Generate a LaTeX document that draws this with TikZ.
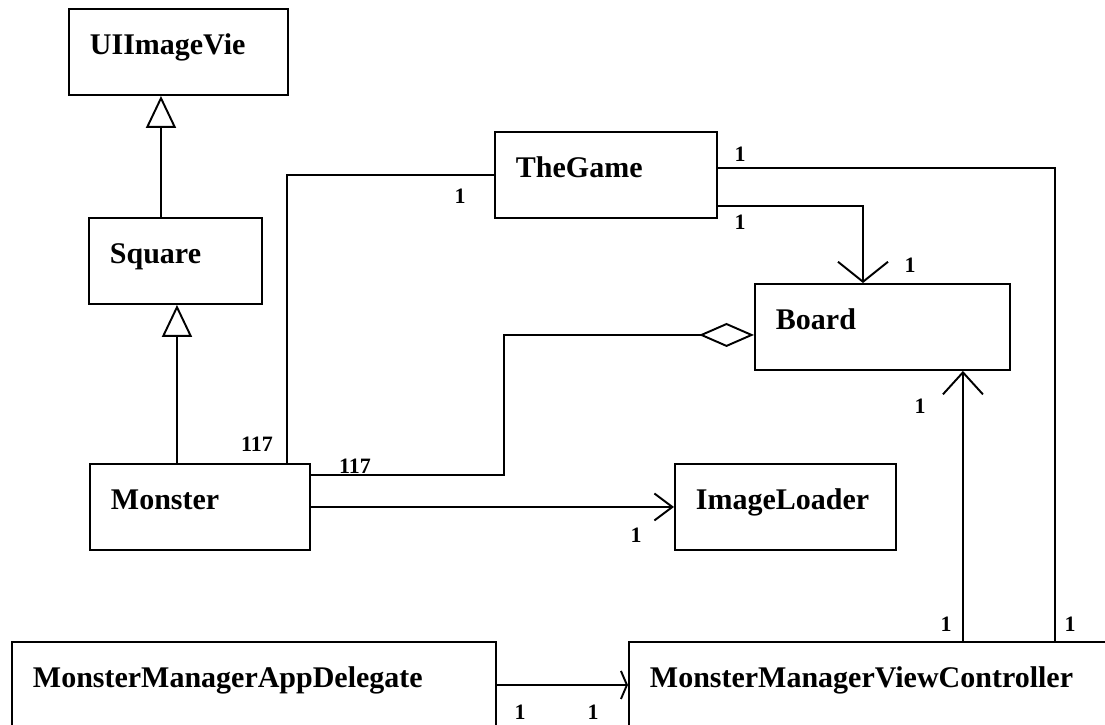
\documentclass[tikz,border=0pt]{standalone}
\usepackage{fontspec}
\setmainfont{Liberation Serif}
\usetikzlibrary{arrows.meta}
\tikzset{
    cls/.style = {draw, line width=1.1pt, anchor=north west, align=left, inner xsep=0.42cm,
        minimum height=1.72cm, text height=0.44cm, text depth=0.32cm,
        font=\fontsize{17.07pt}{20pt}\selectfont\bfseries},
    mult/.style = {inner sep=0pt, font=\fontsize{12.5pt}{14pt}\selectfont\bfseries},
    conn/.style = {line width=1.1pt},
    inherit/.style = {conn, -{Triangle[open,length=0.64cm,width=0.6cm]}},
}

\begin{document}
\begin{tikzpicture}[x=0.02cm, y=-0.02cm]
    \useasboundingbox (0,0) rectangle (1105,724);
    \clip (0,0) rectangle (1105,724);
    % classes
    \node[cls, text width=3.54cm] (uiimageview) at (68,8) {UIImageVie};
    \node[cls, text width=2.62cm] (square) at (88,217) {Square};
    \node[cls, text width=3.56cm] (monster) at (89,463) {Monster};
    \node[cls, text width=3.60cm] (thegame) at (494,131) {TheGame};
    \node[cls, text width=4.26cm] (board) at (754,283) {Board};
    \node[cls, text width=3.58cm] (imageloader) at (674,463) {ImageLoader};
    \node[cls, text width=8.84cm] (appdelegate) at (11,641) {MonsterManagerAppDelegate};
    \node[cls, text width=8.94cm] (viewcontroller) at (628,641) {MonsterManagerViewController};
    % inheritance
    \draw[inherit] ([xshift=1.46cm]square.north west) -- ([xshift=1.46cm]square.north west |- uiimageview.south);
    \draw[inherit] ([xshift=1.76cm]monster.north west) -- ([xshift=1.76cm]monster.north west |- square.south);
    % associations
    \draw[conn] (thegame.west) -| ([xshift=3.96cm]monster.north west);
    \draw[conn, -{Straight Barb[length=0.4cm,width=1cm]}] ([yshift=-0.62cm]thegame.east) -| ([xshift=2.18cm]board.north west);
    \draw[conn] ([yshift=0.14cm]thegame.east) -| ([xshift=8.54cm]viewcontroller.north west);
    \draw[conn, {Diamond[open,length=1.1cm,width=0.48cm]}-] ([yshift=-0.16cm]board.west) -- ++(-5cm,0) |- ([yshift=0.64cm]monster.east);
    \draw[conn, -{Straight Barb[length=0.36cm,width=0.54cm]}] (monster.east) -- (imageloader.west);
    \draw[conn, -{Straight Barb[length=0.44cm,width=0.8cm]}] ([xshift=6.7cm]viewcontroller.north west) -- ([xshift=6.7cm]viewcontroller.north west |- board.south);
    \draw[conn, -{Straight Barb[length=0.12cm,width=0.56cm]}] (appdelegate.east) -- (viewcontroller.west);
    % multiplicities
    \node[mult] (game-left) at (460,196) {1};
    \node[mult] (game-top) at (740,154) {1};
    \node[mult] (game-low) at (740,222) {1};
    \node[mult] (board-top) at (910,265) {1};
    \node[mult] (board-bottom) at (920,406) {1};
    \node[mult] (monster-top) at (257,444) {117};
    \node[mult] (monster-right) at (355,466) {117};
    \node[mult] (loader-left) at (636,535) {1};
    \node[mult] (vc-mid) at (946,624) {1};
    \node[mult] (vc-right) at (1070,624) {1};
    \node[mult] (app-right) at (520,712) {1};
    \node[mult] (vc-left) at (593,712) {1};
\end{tikzpicture}
\end{document}
